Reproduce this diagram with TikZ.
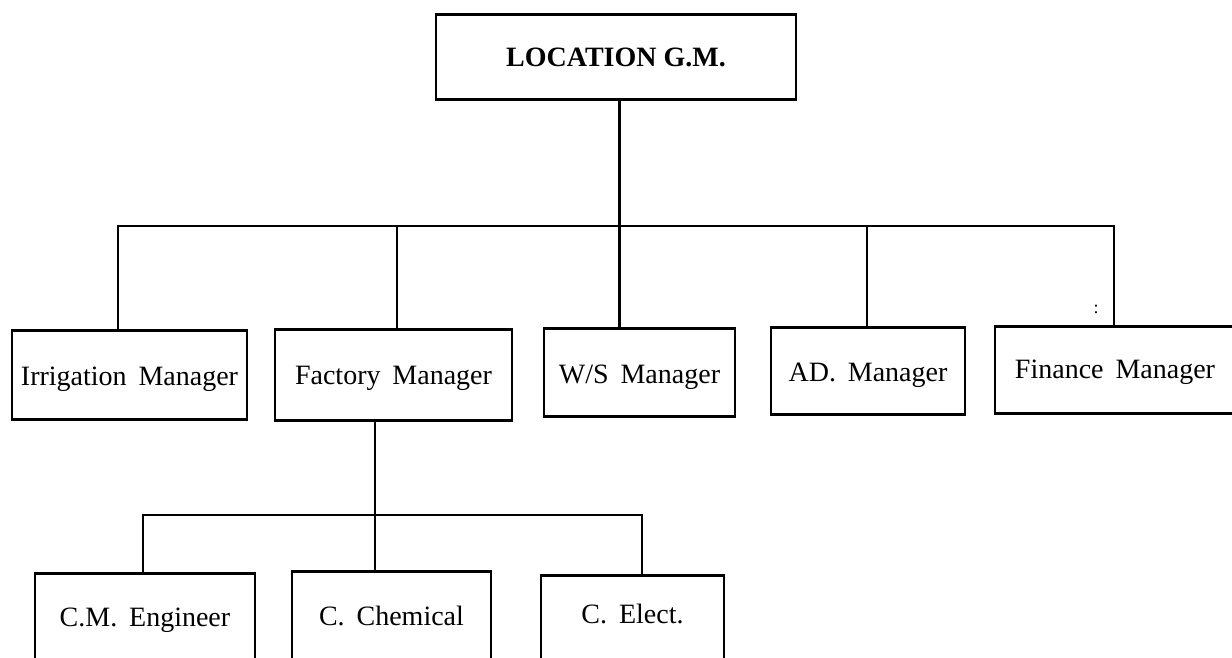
\documentclass[tikz,border=0pt]{standalone}
\usepackage{fontspec}
\setmainfont{Liberation Serif}
\newfontfamily\widefont{Liberation Serif}[WordSpace=1.7]
\begin{document}
\begin{tikzpicture}[x=1pt,y=-1pt,line join=miter]
\tikzset{
  box/.style={draw, line width=2.8pt, inner sep=0pt, anchor=north, font=\widefont\fontsize{28}{30}\selectfont},
  conn/.style={line width=2.8pt},
}
\useasboundingbox (0,0) rectangle (1232,658);
% top
\node[box, minimum width=360pt, text height=52pt, text depth=33pt, font=\bfseries\fontsize{28}{30}\selectfont] (top) at (616,13) {LOCATION G.M.};
% second row
\node[box, minimum width=235pt, text height=55pt, text depth=34pt] (irr) at (129.5,329) {Irrigation Manager};
\node[box, minimum width=237pt, text height=55pt, text depth=36pt] (fac) at (393.5,328) {Factory Manager};
\node[box, minimum width=191pt, text height=55pt, text depth=33pt] (ws) at (639.5,327) {W/S Manager};
\node[box, minimum width=194pt, text height=54pt, text depth=33pt] (ad) at (868,326) {AD. Manager};
\node[box, minimum width=240pt, text height=52pt, text depth=35pt] (fin) at (1115,325) {Finance Manager};
% third row
\node[box, minimum width=220pt, text height=53pt, text depth=37pt] (cm) at (145,572) {C.M. Engineer};
\node[box, minimum width=199pt, text height=54pt, text depth=38pt] (cc) at (391.5,570) {C. Chemical};
\node[box, minimum width=183pt, text height=48pt, text depth=40pt] (ce) at (632.5,574) {C. Elect.};
% stray mark
\node[font=\fontsize{18}{18}\selectfont, inner sep=0pt] (mark) at (1096,309) {:};
% bus coordinates
\coordinate (b1) at (118,226);
\coordinate (b2) at (397,226);
\coordinate (b3) at (619.5,226);
\coordinate (b4) at (867,226);
\coordinate (b5) at (1114,226);
\coordinate (s1) at (143,515);
\coordinate (s2) at (375,515);
\coordinate (s3) at (642,515);
% connectors
\draw[conn] (top.south -| b3) -- (ws.north -| b3);
\draw[conn] (irr.north -| b1) -- (b1) -- (b5) -- (fin.north -| b5);
\draw[conn] (b2) -- (fac.north -| b2);
\draw[conn] (b4) -- (ad.north -| b4);
\draw[conn] (fac.south -| s2) -- (cc.north -| s2);
\draw[conn] (cm.north -| s1) -- (s1) -- (s3) -- (ce.north -| s3);
\end{tikzpicture}
\end{document}
